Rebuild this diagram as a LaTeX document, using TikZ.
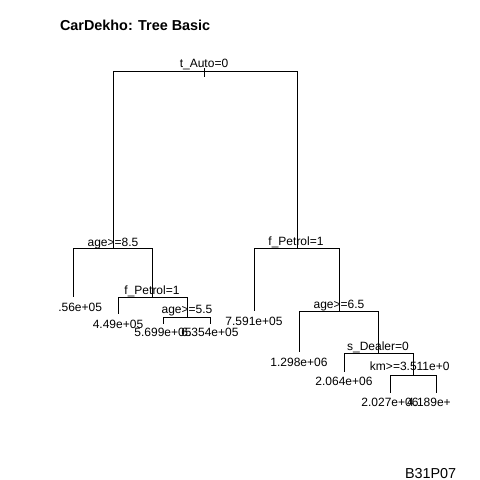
\documentclass[tikz,border=0pt]{standalone}
\usepackage{fontspec}
\setmainfont{Liberation Sans}
\begin{document}
\begin{tikzpicture}[x=1pt,y=-1pt,
  edge/.style={line width=1pt,line cap=butt,black},
  lab/.style={inner sep=0pt,outer sep=0pt,anchor=base,font=\fontsize{12}{14}\selectfont},
  leaflab/.style={lab},
  ttl/.style={inner sep=0pt,outer sep=0pt,anchor=base west,font=\fontsize{14.4}{16}\selectfont\bfseries},
  note/.style={inner sep=0pt,outer sep=0pt,anchor=base west,font=\fontsize{14.4}{16}\selectfont}]
\useasboundingbox (0,0) rectangle (480,480);
\node[ttl] (title) at (60,30) {CarDekho: Tree Basic};
\node[note] (code) at (405,478) {B31P07};
% split points
\coordinate (r) at (205,71);
\coordinate (rtop) at (204,68);
\coordinate (rbot) at (204,77);
\coordinate (rl) at (113,71);
\coordinate (rr) at (297,71);
\coordinate (a) at (113,248);
\coordinate (al) at (73,248);
\coordinate (ar) at (152,248);
\coordinate (c) at (152,297);
\coordinate (cl) at (118,297);
\coordinate (cr) at (187,297);
\coordinate (d) at (187,317);
\coordinate (dl) at (163,317);
\coordinate (dr) at (210,317);
\coordinate (b) at (297,248);
\coordinate (bl) at (254,248);
\coordinate (br) at (339,248);
\coordinate (e) at (339,311);
\coordinate (el) at (299,311);
\coordinate (er) at (378,311);
\coordinate (f) at (378,353);
\coordinate (fl) at (344,353);
\coordinate (fr) at (413,353);
\coordinate (g) at (413,375);
\coordinate (gl) at (390,375);
\coordinate (gr) at (436,375);
% leaf ends
\coordinate (l1) at (73,297);
\coordinate (l2) at (118,314);
\coordinate (l3) at (163,324);
\coordinate (l4) at (210,324);
\coordinate (l5) at (254,311);
\coordinate (l6) at (299,352);
\coordinate (l7) at (344,372);
\coordinate (l8) at (390,393);
\coordinate (l9) at (436,393);
% edges
\draw[edge] (rtop) -- (rbot);
\draw[edge] (rl) -- (rr);
\draw[edge] (rl) -- (a);
\draw[edge] (rr) -- (b);
\draw[edge] (al) -- (ar);
\draw[edge] (al) -- (l1);
\draw[edge] (ar) -- (c);
\draw[edge] (cl) -- (cr);
\draw[edge] (cl) -- (l2);
\draw[edge] (cr) -- (d);
\draw[edge] (dl) -- (dr);
\draw[edge] (dl) -- (l3);
\draw[edge] (dr) -- (l4);
\draw[edge] (bl) -- (br);
\draw[edge] (bl) -- (l5);
\draw[edge] (br) -- (e);
\draw[edge] (el) -- (er);
\draw[edge] (el) -- (l6);
\draw[edge] (er) -- (f);
\draw[edge] (fl) -- (fr);
\draw[edge] (fl) -- (l7);
\draw[edge] (fr) -- (g);
\draw[edge] (gl) -- (gr);
\draw[edge] (gl) -- (l8);
\draw[edge] (gr) -- (l9);
% split labels
\node[lab] (ta) at (204,67) {t\_Auto=0};
\node[lab] (tb) at (113,246) {age>=8.5};
\node[lab] (tc) at (152,294) {f\_Petrol=1};
\node[lab] (td) at (187,313) {age>=5.5};
\node[lab] (te) at (296,245) {f\_Petrol=1};
\node[lab] (tf) at (339,308) {age>=6.5};
\node[lab] (tg) at (378,350) {s\_Dealer=0};
\node[lab,anchor=base east] (th) at (449.5,370) {km>=3.511e+0};
% leaf labels
\node[leaflab,anchor=base east] (v1) at (102,311) {.56e+05};
\node[leaflab] (v2) at (118,328) {4.49e+05};
\node[leaflab] (v3) at (163,336) {5.699e+05};
\node[leaflab] (v4) at (210,336) {6.354e+05};
\node[leaflab] (v5) at (254,325) {7.591e+05};
\node[leaflab] (v6) at (299,366) {1.298e+06};
\node[leaflab] (v7) at (344,385) {2.064e+06};
\node[leaflab] (v8) at (390,406) {2.027e+06};
\node[leaflab,anchor=base west] (v9) at (407,406) {4.189e+};
\end{tikzpicture}
\end{document}
